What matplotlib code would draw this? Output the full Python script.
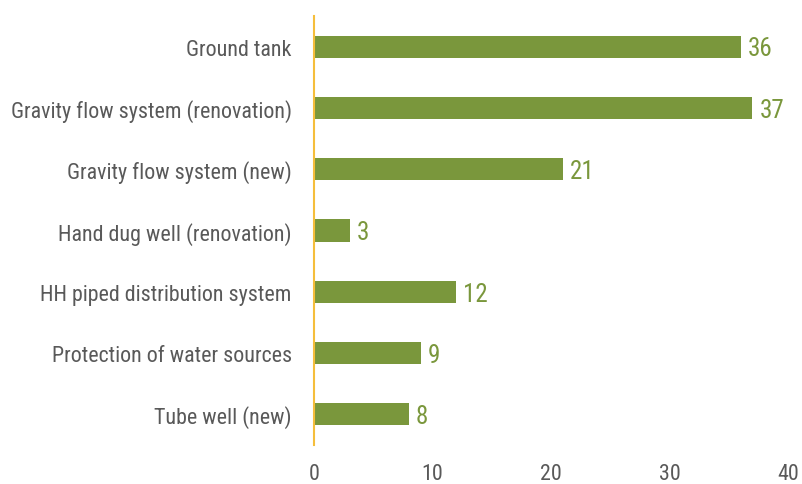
import matplotlib
matplotlib.use("Agg")
import matplotlib.pyplot as plt

categories = [
    "Ground tank",
    "Gravity flow system (renovation)",
    "Gravity flow system (new)",
    "Hand dug well (renovation)",
    "HH piped distribution system",
    "Protection of water sources",
    "Tube well (new)",
]
values = [36, 37, 21, 3, 12, 9, 8]
x_ticks = [0, 10, 20, 30, 40]

plt.rcParams["font.family"] = ["Roboto Condensed", "Archivo Narrow", "DejaVu Sans"]

bar_color = "#7A973C"
axis_color = "#F5BE3C"
text_color = "#595959"

fig = plt.figure(figsize=(8.02, 4.85), dpi=100)
ax = fig.add_axes([314 / 802, 1 - 446 / 485, (788 - 314) / 802, (446 - 17) / 485])

ypos = list(range(len(categories)))
ax.barh(ypos, values, height=0.36, color=bar_color)
for y, v in zip(ypos, values):
    ax.text(v + 0.6, y + 0.03, str(v), va="center", ha="left", fontsize=18, color=bar_color)

ax.set_xlim(0, 40)
ax.set_ylim(len(categories) - 0.5, -0.5)
ax.set_yticks(ypos)
ax.set_yticklabels(categories, fontsize=15.8, color=text_color)
ax.set_xticks(x_ticks)
ax.set_xticklabels([str(t) for t in x_ticks], fontsize=15.8, color=text_color)
ax.tick_params(axis="both", length=0)
ax.tick_params(axis="y", pad=16)
ax.tick_params(axis="x", pad=13)

for side in ["top", "right", "bottom"]:
    ax.spines[side].set_visible(False)
ax.spines["left"].set_color(axis_color)
ax.spines["left"].set_linewidth(1.5)

fig.savefig("out.png", dpi=100)
